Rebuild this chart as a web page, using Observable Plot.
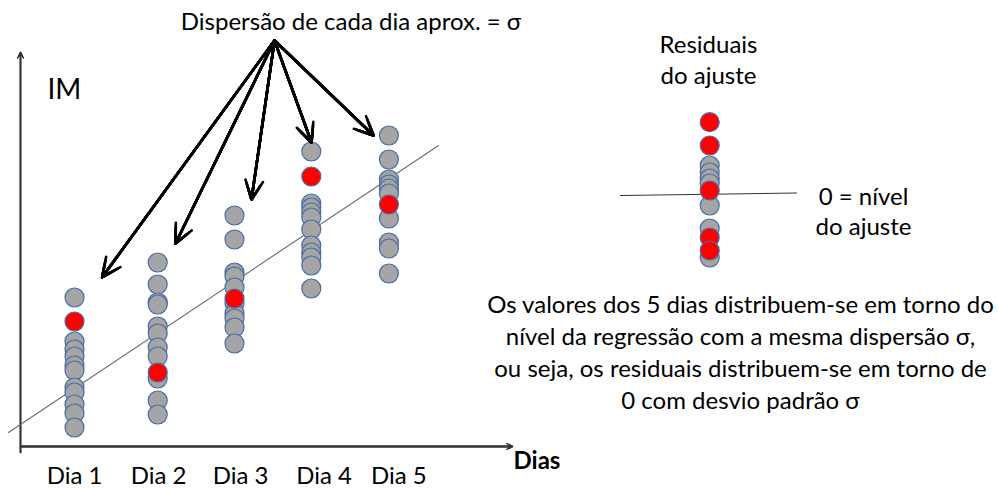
<!DOCTYPE html>
<html><head><meta charset="utf-8">
<script src="https://cdn.jsdelivr.net/npm/d3@7"></script>
<script src="https://cdn.jsdelivr.net/npm/@observablehq/plot@0.6"></script>
<style>html,body{margin:0;padding:0;background:#fff;} #chart svg{display:block;}</style>
</head><body><div id="chart"></div>
<script>
// ---- data (x in "day" units, y in IM units) ----
const days = ["Dia 1", "Dia 2", "Dia 3", "Dia 4", "Dia 5"];
const dayLabelPos = [1, 2.05, 3.075, 4.12, 5.055];
const dayColumnPos = [1, 2.04, 3.0, 3.96, 4.93];
const grayIM = [
  [14.9, 10.5, 9.7, 9.0, 8.1, 7.6, 5.9, 5.4, 4.2, 3.3, 1.9],
  [18.4, 16.2, 14.4, 14.2, 12.0, 11.3, 9.9, 9.0, 6.8, 4.6, 3.2],
  [23.1, 20.7, 17.4, 17.0, 15.9, 14.3, 13.3, 12.8, 11.9, 10.3],
  [29.5, 24.3, 23.9, 23.4, 22.9, 21.7, 20.1, 19.4, 18.9, 18.1, 15.8],
  [31.1, 28.7, 26.7, 26.2, 25.8, 25.3, 22.8, 20.4, 19.8, 17.3]
];
const redIM = [12.5, 7.4, 14.8, 27.0, 24.2];
const regressionLine = [{x: 0.175, y: 1.4}, {x: 5.55, y: 30.1}];
const residualsGray = [2.85, 2.15, 1.55, 1.05, -1.15, -3.45, -6.35];
const residualsRed = [7.18, 4.85, 0.35, -4.35, -5.65];
const arrowTargets = [
  {x: 1.346, y: 16.93}, {x: 2.2625, y: 20.3}, {x: 3.2125, y: 24.7},
  {x: 3.9625, y: 30.4}, {x: 4.7375, y: 31.1}
];
const titleText = "Dispersão de cada dia aprox. = σ";
const yLabel = "IM";
const xLabel = "Dias";
const residualTitle = "Residuais\ndo ajuste";
const zeroLabel = "0 = nível\ndo ajuste";
const bodyText = "Os valores dos 5 dias distribuem-se em torno do\nnível da regressão com a mesma dispersão σ,\nou seja, os residuais distribuem-se em torno de\n0 com desvio padrão σ";

// ---- layout constants ----
const arrowOrigin = {x: 3.5, y: 40.6};
const residualX = 8.94, residualZero = 25.25;
const residualLine = [{x: 7.825, y: 25.1}, {x: 10.025, y: 25.35}];
const axisX = 0.325;

const points = [];
grayIM.forEach((vals, i) => vals.forEach(v => points.push({x: dayColumnPos[i], y: v, red: false})));
redIM.forEach((v, i) => points.push({x: dayColumnPos[i], y: v, red: true}));
const resPoints = residualsGray.map(r => ({x: residualX, y: residualZero + r, red: false}))
  .concat(residualsRed.map(r => ({x: residualX, y: residualZero + r, red: true})));
const arrows = arrowTargets.map(t => ({x1: arrowOrigin.x, y1: arrowOrigin.y, x2: t.x, y2: t.y}));
const axes = [
  {x1: axisX, y1: -0.6, x2: axisX, y2: 39.4},
  {x1: axisX, y1: 0, x2: 6.475, y2: 0}
];

const FONT = "Lato";
const dotStyle = {r: 9.5, stroke: "#4a6ea6", strokeWidth: 1.2};

const chart = Plot.plot({
  width: 999, height: 488,
  margin: 0,
  x: {domain: [0.075, 12.5625], axis: null},
  y: {domain: [-4.2, 44.6], axis: null},
  style: {background: "#fff", overflow: "visible"},
  marks: [
    // axes with small filled heads (stacked V heads)
    ...[1.5, 3, 4.5, 6, 7.5].map(h => Plot.arrow(axes, {x1: "x1", y1: "y1", x2: "x2", y2: "y2", stroke: "#333", strokeWidth: 1.3, headLength: h, headAngle: 55})),
    // regression line
    Plot.line(regressionLine, {x: "x", y: "y", stroke: "#6a6a6a", strokeWidth: 1.1}),
    // residual zero line
    Plot.line(residualLine, {x: "x", y: "y", stroke: "#333", strokeWidth: 1.1}),
    // points
    Plot.dot(points.filter(d => !d.red), {x: "x", y: "y", fill: "#a5a5a5", ...dotStyle}),
    Plot.dot(points.filter(d => d.red), {x: "x", y: "y", fill: "#ff0000", ...dotStyle}),
    Plot.dot(resPoints.filter(d => !d.red), {x: "x", y: "y", fill: "#a5a5a5", ...dotStyle}),
    Plot.dot(resPoints.filter(d => d.red), {x: "x", y: "y", fill: "#ff0000", ...dotStyle}),
    // arrows from title
    ...[2, 4, 6, 8, 10, 12].map(h => Plot.arrow(arrows, {x1: "x1", y1: "y1", x2: "x2", y2: "y2", stroke: "#000", strokeWidth: 2.6, headLength: h, headAngle: 50})),
    // texts
    Plot.text([titleText], {x: 4.456, y: 41.67, text: d => d, fontSize: 24, fontFamily: FONT, lineAnchor: "bottom", fill: "#000"}),
    Plot.text([yLabel], {x: 0.6625, y: 34.8, text: d => d, fontSize: 28, fontFamily: FONT, textAnchor: "start", lineAnchor: "bottom", fill: "#000"}),
    Plot.text(days, {x: (d, i) => dayLabelPos[i], y: -3.7, text: d => d, fontSize: 24, fontFamily: FONT, lineAnchor: "bottom", fill: "#000"}),
    Plot.text([xLabel], {x: 6.4875, y: -2.23, text: d => d, fontSize: 24, fontWeight: "bold", fontFamily: FONT, textAnchor: "start", lineAnchor: "bottom", fill: "#000"}),
    Plot.text([residualTitle], {x: 8.925, y: 36.3, text: d => d, fontSize: 24, fontFamily: FONT, lineAnchor: "bottom", lineHeight: 1.27, fill: "#000"}),
    Plot.text([zeroLabel], {x: 10.8625, y: 21.2, text: d => d, fontSize: 24, fontFamily: FONT, lineAnchor: "bottom", lineHeight: 1.25, fill: "#000"}),
    Plot.text([bodyText], {x: 9.325, y: 3.8, text: d => d, fontSize: 24, fontFamily: FONT, lineAnchor: "bottom", lineHeight: 1.32, fill: "#000"})
  ]
});
document.getElementById("chart").appendChild(chart);
</script>
</body></html>
